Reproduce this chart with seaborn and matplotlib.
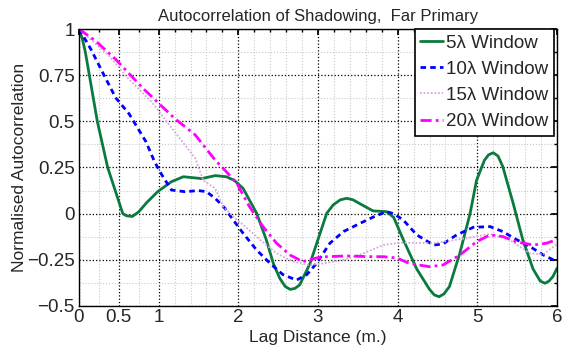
import matplotlib
matplotlib.use("Agg")
import matplotlib.pyplot as plt
import pandas as pd
import seaborn as sns
from matplotlib.ticker import FixedLocator

# values
win5_x = [0.0, 0.04, 0.08, 0.13, 0.23, 0.36, 0.455, 0.55, 0.6, 0.67, 0.75, 0.85, 0.99, 1.16,
          1.31, 1.54, 1.71, 1.85, 1.95, 2.06, 2.23, 2.35, 2.44, 2.52, 2.59, 2.65, 2.71, 2.77,
          2.90, 3.0, 3.11, 3.19, 3.28, 3.36, 3.44, 3.53, 3.69, 3.86, 3.95, 4.07, 4.24, 4.40,
          4.46, 4.52, 4.58, 4.65, 4.78, 4.91, 4.99, 5.09, 5.14, 5.20, 5.26, 5.32, 5.45,
          5.57, 5.70, 5.79, 5.85, 5.90, 5.95, 6.0]
win5_y = [1.0, 0.95, 0.875, 0.75, 0.5, 0.25, 0.125, 0.0, -0.012, -0.015, 0.01, 0.06, 0.12,
          0.173, 0.20, 0.19, 0.206, 0.20, 0.18, 0.137, 0.002, -0.14, -0.27, -0.35, -0.395,
          -0.41, -0.405, -0.386, -0.27, -0.14, 0.002, 0.047, 0.075, 0.083, 0.075, 0.053,
          0.015, 0.011, -0.02, -0.14, -0.30, -0.41, -0.44, -0.45, -0.435, -0.395, -0.215,
          0.002, 0.18, 0.29, 0.318, 0.33, 0.312, 0.255, 0.056, -0.14, -0.30, -0.365,
          -0.377, -0.365, -0.34, -0.296]

win10_x = [0.0, 0.09, 0.15, 0.32, 0.46, 0.63, 0.84, 0.95, 1.04, 1.16, 1.33, 1.50, 1.60,
           1.71, 1.83, 1.92, 2.06, 2.23, 2.40, 2.56, 2.73, 2.86, 2.98, 3.15, 3.32, 3.53,
           3.69, 3.86, 3.95, 4.07, 4.24, 4.45, 4.57, 4.74, 4.95, 5.16, 5.32, 5.49, 5.66,
           5.83, 6.0]
win10_y = [1.0, 0.935, 0.89, 0.745, 0.628, 0.54, 0.39, 0.28, 0.21, 0.128, 0.119, 0.125,
           0.119, 0.083, 0.03, -0.025, -0.106, -0.197, -0.27, -0.33, -0.36, -0.33, -0.27,
           -0.16, -0.097, -0.052, -0.019, 0.011, 0.0, -0.034, -0.115, -0.17, -0.164, -0.115,
           -0.074, -0.07, -0.097, -0.14, -0.178, -0.224, -0.26]

win15_x = [0.0, 0.38, 0.6, 0.91, 1.20, 1.46, 1.56, 1.71, 1.81, 1.96, 2.06, 2.27, 2.48, 2.69,
           2.88, 3.06, 3.32, 3.57, 3.82, 4.03, 4.45, 4.86, 5.16, 5.40, 5.66, 5.83, 6.0]
win15_y = [1.0, 0.854, 0.74, 0.606, 0.444, 0.30, 0.18, 0.137, 0.038, -0.025, -0.06, -0.14,
           -0.215, -0.26, -0.278, -0.27, -0.25, -0.215, -0.17, -0.157, -0.16, -0.133, -0.11,
           -0.14, -0.215, -0.22, -0.165]

win20_x = [0.0, 0.21, 0.46, 0.80, 1.20, 1.46, 1.71, 1.85, 1.98, 2.14, 2.31, 2.48, 2.65,
           2.81, 2.98, 3.11, 3.36, 3.65, 3.82, 3.99, 4.15, 4.40, 4.57, 4.78, 4.99, 5.16,
           5.32, 5.49, 5.70, 5.87, 6.0]
win20_y = [1.0, 0.935, 0.836, 0.68, 0.516, 0.426, 0.29, 0.227, 0.165, 0.038, -0.07, -0.16,
           -0.224, -0.26, -0.24, -0.233, -0.229, -0.233, -0.233, -0.24, -0.27, -0.287,
           -0.278, -0.224, -0.152, -0.115, -0.124, -0.152, -0.17, -0.16, -0.14]

labels = ["5λ Window", "10λ Window", "15λ Window", "20λ Window"]
x_ticks = [0, 0.5, 1, 2, 3, 4, 5, 6]
y_ticks = [-0.5, -0.25, 0, 0.25, 0.5, 0.75, 1]


def main() -> None:
    sns.set_theme(style="white")
    plt.rcParams["font.family"] = ["Liberation Sans", "DejaVu Sans"]

    fig = plt.figure(figsize=(5.63, 3.47), dpi=100)
    ax = fig.add_axes([0.1403, 0.1182, 0.849, 0.7982])

    series = [
        (win5_x, win5_y, dict(color="#0b7a3e", lw=2.0, ls="-")),
        (win10_x, win10_y, dict(color="#0000ff", lw=2.0, ls=(0, (2, 1.5)))),
        (win15_x, win15_y, dict(color="#d9a6dc", lw=1.3, ls=(0, (1, 1)))),
        (win20_x, win20_y, dict(color="#ff00ff", lw=2.0, ls=(0, (4, 1.5, 1, 1.5)))),
    ]
    for (xs, ys, style), label in zip(series, labels):
        df = pd.DataFrame({"lag": xs, "r": ys})
        sns.lineplot(data=df, x="lag", y="r", ax=ax, sort=False, label=label,
                     estimator=None, **style)

    ax.set_xlim(0, 6)
    ax.set_ylim(-0.5, 1)
    ax.set_xticks(x_ticks)
    ax.set_xticklabels([f"{t:g}" for t in x_ticks])
    ax.set_yticks(y_ticks)
    ax.set_yticklabels(["\u22120.5", "\u22120.25", "0", "0.25", "0.5", "0.75", "1"])
    ax.xaxis.set_minor_locator(FixedLocator(
        [0.25, 0.75] + [i / 5 for i in range(6, 30) if i % 5 != 0]))
    ax.yaxis.set_minor_locator(FixedLocator([-0.375, -0.125, 0.125, 0.375, 0.625, 0.875]))

    ax.grid(which="major", color="black", ls=":", lw=0.9)
    ax.grid(which="minor", color="#c8c8c8", ls=":", lw=0.8)
    ax.set_axisbelow(True)
    ax.tick_params(which="both", direction="in", top=True, right=True, labelsize=13.5,
                   color="black")
    ax.tick_params(axis="x", pad=2)
    ax.tick_params(axis="y", pad=3)
    ax.tick_params(which="major", length=4)
    ax.tick_params(which="minor", length=2)
    for sp in ax.spines.values():
        sp.set_color("black")
        sp.set_linewidth(1.0)

    ax.set_xlabel("Lag Distance (m.)", fontsize=12.5, labelpad=3)
    ax.set_ylabel("Normalised Autocorrelation", fontsize=12.5, labelpad=0)
    ax.set_title("Autocorrelation of Shadowing,  Far Primary", fontsize=12, pad=6)

    leg = ax.legend(loc="upper right", borderaxespad=0, fancybox=False, framealpha=1,
                    edgecolor="black", fontsize=13.5, handlelength=1.2, handletextpad=0.15,
                    labelspacing=0.48, borderpad=0.3, bbox_to_anchor=(0.993, 1.0))
    leg.get_frame().set_linewidth(1.2)

    fig.savefig("out.png", dpi=100)
    plt.close(fig)


if __name__ == "__main__":
    main()
